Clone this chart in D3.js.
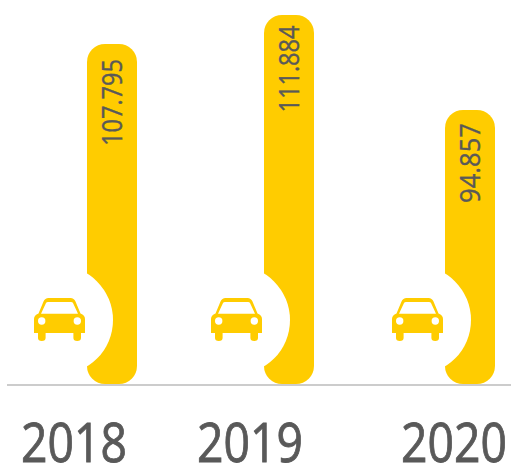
<!DOCTYPE html>
<html>
<head>
<meta charset="utf-8">
<script src="https://cdn.jsdelivr.net/npm/d3@7"></script>
<style>
  html, body { margin: 0; padding: 0; background: #fff; }
  svg { display: block; }
  text { font-family: "Open Sans", sans-serif; fill: #595959; stroke: #595959; }
</style>
</head>
<body>
<div id="chart"></div>
<script>
const years = ["2018", "2019", "2020"];
const values = [107795, 111884, 94857];
const valueLabels = ["107.795", "111.884", "94.857"];

const width = 512;
const height = 466;
const baseline = 384;
const barWidth = 50;
const yellow = "#ffcc00";

const svg = d3.select("div#chart")
  .append("svg")
  .attr("width", width)
  .attr("height", height);

// Escalas: las barras del original no son proporcionales, por eso el eje y tiene tramos
const x = d3.scaleOrdinal().domain(years).range([112, 289, 470]);
const xLabel = d3.scaleOrdinal().domain(years).range([74, 250, 454]);
const y = d3.scaleLinear()
  .domain([0, d3.min(values), values[0], d3.max(values)])
  .range([baseline, 110, 44, 15]);

// Donde acaba cada valor y cuanto ocupa (no van alineados igual en el original)
const labelOffset = d3.scaleOrdinal().domain(years).range([15, 10.5, 13]);
const labelLength = d3.scaleOrdinal().domain(years).range([87, 87, 80]);

const data = years.map((year, i) => ({ year, value: values[i], label: valueLabels[i] }));

// Barra con las esquinas redondeadas
function barPath(d) {
  const r = 18;
  const x0 = x(d.year) - barWidth / 2;
  const x1 = x0 + barWidth;
  const top = y(d.value);
  return `M${x0},${top + r}A${r},${r} 0 0 1 ${x0 + r},${top}H${x1 - r}A${r},${r} 0 0 1 ${x1},${top + r}` +
    `V${baseline - r}A${r},${r} 0 0 1 ${x1 - r},${baseline}H${x0 + r}A${r},${r} 0 0 1 ${x0},${baseline - r}Z`;
}

const groups = svg.selectAll("g.bar")
  .data(data)
  .enter()
  .append("g")
  .attr("class", "bar");

groups.append("path")
  .attr("d", barPath)
  .attr("fill", yellow);

// Circulo blanco que muerde la barra
groups.append("circle")
  .attr("cx", (d) => x(d.year) - 53.6)
  .attr("cy", 320)
  .attr("r", 54.6)
  .attr("fill", "#fff");

// Coche
const car = groups.append("g")
  .attr("transform", (d) => `translate(${x(d.year) - 78},298)`);

car.append("path")
  .attr("fill", yellow)
  .attr("d", "M4.5,15.5 L9.5,3.5 Q11,0 14.5,0 H36.5 Q40,0 41.5,3.5 L46.5,15.5 Q51,17 51,21 V35 H47 V40 Q47,43 43.2,43 Q39.4,43 39.4,40 V35 H11.6 V40 Q11.6,43 7.8,43 Q4,43 4,40 V35 H0 V21 Q0,17 4.5,15.5 Z");

car.append("path")
  .attr("fill", "#fff")
  .attr("d", "M7,15.7 L12,5 Q12.5,4 14,4 H37 Q38.5,4 39,5 L44,15.7 Z");

car.selectAll("circle")
  .data([7.7, 43.3])
  .enter()
  .append("circle")
  .attr("cx", (d) => d)
  .attr("cy", 23)
  .attr("r", 3.7)
  .attr("fill", "#fff");

// Linea base
svg.append("line")
  .attr("x1", 7)
  .attr("x2", 511)
  .attr("y1", baseline + 1)
  .attr("y2", baseline + 1)
  .attr("stroke", "#cccccc")
  .attr("stroke-width", 2);

// Valores en vertical
groups.append("text")
  .attr("transform", (d) => `translate(${x(d.year) + 10},${y(d.value) + labelOffset(d.year)}) rotate(-90)`)
  .attr("text-anchor", "end")
  .attr("font-size", 27)
  .attr("stroke-width", 0.4)
  .attr("textLength", (d) => labelLength(d.year))
  .attr("lengthAdjust", "spacingAndGlyphs")
  .text((d) => d.label);

// Años
groups.append("text")
  .attr("x", (d) => xLabel(d.year))
  .attr("y", 462)
  .attr("text-anchor", "middle")
  .attr("font-size", 55)
  .attr("stroke-width", 0.9)
  .attr("textLength", 106)
  .attr("lengthAdjust", "spacingAndGlyphs")
  .text((d) => d.year);
</script>
</body>
</html>
